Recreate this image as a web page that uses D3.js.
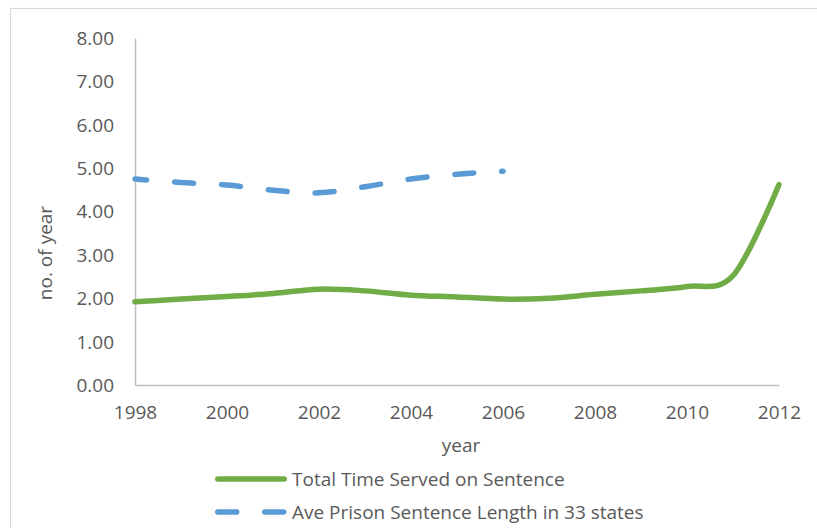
<!DOCTYPE html>
<html>
<head>
<meta charset="utf-8">
<script src="https://cdn.jsdelivr.net/npm/d3@7/dist/d3.min.js"></script>
<style>
  html, body { margin: 0; padding: 0; background: #ffffff; }
  svg { display: block; }
  text { font-family: "Open Sans", "Noto Sans", sans-serif; fill: #595959; }
</style>
</head>
<body>
<svg id="chart" width="817" height="528"></svg>
<script>
// Years along the horizontal axis
const years = [1998, 1999, 2000, 2001, 2002, 2003, 2004, 2005, 2006, 2007, 2008, 2009, 2010, 2011, 2012];
// Total time served on sentence (years)
const timeServed = [1.92, 1.98, 2.04, 2.11, 2.21, 2.17, 2.07, 2.03, 1.98, 2.00, 2.09, 2.17, 2.27, 2.52, 4.62];
// Average prison sentence length in 33 states (years), reported 1998-2006
const sentenceYears = [1998, 1999, 2000, 2001, 2002, 2003, 2004, 2005, 2006];
const sentenceLength = [4.75, 4.67, 4.61, 4.49, 4.43, 4.57, 4.75, 4.86, 4.93];

const xTicks = [1998, 2000, 2002, 2004, 2006, 2008, 2010, 2012];
const yTicks = [0, 1, 2, 3, 4, 5, 6, 7, 8];
const seriesNames = ["Total Time Served on Sentence", "Ave Prison Sentence Length in 33 states"];
const xTitle = "year";
const yTitle = "no. of year";

const green = "#70ad47";
const blue = "#5b9bd5";
const axisColor = "#bfbfbf";
const fontSize = 19;

const svg = d3.select("#chart");

// Chart area frame
svg.append("rect")
  .attr("x", 10.5).attr("y", 8.5)
  .attr("width", 900).attr("height", 700)
  .attr("fill", "none")
  .attr("stroke", "#d9d9d9")
  .attr("stroke-width", 1.2);

const x = d3.scaleLinear().domain([1998, 2012]).range([135, 779]);
const y = d3.scaleLinear().domain([0, 8]).range([385, 38]);

// Vertical axis
const yAxis = svg.append("g")
  .attr("transform", "translate(135,0)")
  .call(d3.axisLeft(y).tickValues(yTicks).tickFormat(d3.format(".2f")).tickSize(0).tickSizeOuter(0).tickPadding(21));
yAxis.select(".domain").attr("stroke", axisColor).attr("stroke-width", 1.5);
yAxis.selectAll(".tick text")
  .attr("font-size", fontSize)
  .attr("font-family", "'Open Sans', sans-serif")
  .attr("fill", "#595959")
  .attr("dy", "0.34em");

// Horizontal axis
const xAxis = svg.append("g")
  .attr("transform", "translate(0,385)")
  .call(d3.axisBottom(x).tickValues(xTicks).tickFormat(d3.format("d")).tickSize(0).tickSizeOuter(0));
xAxis.select(".domain").attr("stroke", axisColor).attr("stroke-width", 1.5);
xAxis.selectAll(".tick text")
  .attr("font-size", fontSize)
  .attr("font-family", "'Open Sans', sans-serif")
  .attr("fill", "#595959")
  .attr("y", 34)
  .attr("dy", 0);

// Axis titles
svg.append("text")
  .attr("x", 461).attr("y", 452)
  .attr("text-anchor", "middle")
  .attr("font-size", fontSize)
  .text(xTitle);

svg.append("text")
  .attr("transform", "translate(52,253) rotate(-90)")
  .attr("text-anchor", "middle")
  .attr("font-size", fontSize)
  .text(yTitle);

const line = d3.line()
  .x(d => x(d[0]))
  .y(d => y(d[1]))
  .curve(d3.curveCardinal.tension(0));

// Total time served (solid)
svg.append("path")
  .datum(years.map((yr, i) => [yr, timeServed[i]]))
  .attr("d", line)
  .attr("fill", "none")
  .attr("stroke", green)
  .attr("stroke-width", 5.5)
  .attr("stroke-linecap", "round")
  .attr("stroke-linejoin", "round");

// Average sentence length (long dash)
svg.append("path")
  .datum(sentenceYears.map((yr, i) => [yr, sentenceLength[i]]))
  .attr("d", line)
  .attr("fill", "none")
  .attr("stroke", blue)
  .attr("stroke-width", 5.5)
  .attr("stroke-linecap", "round")
  .attr("stroke-dasharray", "19 28")
  .attr("stroke-dashoffset", 7.25);

// Legend
const legend = svg.append("g");
const rows = [
  { name: seriesNames[0], color: green, dash: null, cy: 479, ty: 486 },
  { name: seriesNames[1], color: blue, dash: "19 28", cy: 512, ty: 519 }
];
rows.forEach(r => {
  legend.append("line")
    .attr("x1", 217.75).attr("x2", 284.25)
    .attr("y1", r.cy).attr("y2", r.cy)
    .attr("stroke", r.color)
    .attr("stroke-width", 5.5)
    .attr("stroke-linecap", "round")
    .attr("stroke-dasharray", r.dash);
  legend.append("text")
    .attr("x", 292).attr("y", r.ty)
    .attr("font-size", fontSize)
    .text(r.name);
});
</script>
</body>
</html>
